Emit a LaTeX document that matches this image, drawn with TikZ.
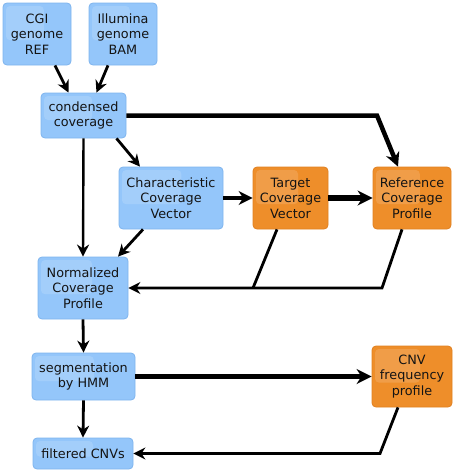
\documentclass[tikz,border=0pt]{standalone}
\usepackage{fontspec}
\setmainfont{DejaVu Sans}
\usetikzlibrary{arrows.meta,calc}
\definecolor{boxblue}{HTML}{94C6FA}
\definecolor{lineblue}{HTML}{7EB4EE}
\definecolor{boxorange}{HTML}{EE8E2A}
\definecolor{lineorange}{HTML}{E08020}
\definecolor{txt}{HTML}{141414}
\begin{document}
\begin{tikzpicture}[x=1pt,y=-1pt,
  box/.style={rounded corners=4pt, align=center, inner sep=0pt, text=txt,
    font=\fontsize{12.8}{15.5}\selectfont, line width=0.8pt,
    path picture={\fill[white,opacity=0.14,rounded corners=4pt]
      ($(path picture bounding box.north west)+(3,3)$) rectangle
      ($(path picture bounding box.north west)!0.6!(path picture bounding box.south east)$);}},
  bluebox/.style={box, fill=boxblue, draw=lineblue},
  orangebox/.style={box, fill=boxorange, draw=lineorange},
  thin/.style={line width=2.8pt, -{Stealth[length=12pt,width=12pt]}},
  plain/.style={line width=2.8pt},
  thick/.style={line width=4.5pt, -{Stealth[length=14pt,width=14pt]}},
  thicker/.style={line width=5.5pt, -{Stealth[length=15pt,width=15pt]}}
]
\useasboundingbox (0,0) rectangle (454,471);
\node[bluebox, minimum width=68, minimum height=62] (cgi) at (37,34) {CGI\\genome\\REF};
\node[bluebox, minimum width=68, minimum height=62] (ill) at (123,34) {Illumina\\genome\\BAM};
\node[bluebox, minimum width=85, minimum height=45] (cond) at (83.5,115.5) {condensed\\coverage};
\node[bluebox, minimum width=104, minimum height=62] (char) at (171,198) {Characteristic\\Coverage\\Vector};
\node[orangebox, minimum width=75, minimum height=62] (targ) at (290.5,198) {Target\\Coverage\\Vector};
\node[orangebox, minimum width=78, minimum height=62] (ref) at (412,198) {Reference\\Coverage\\Profile};
\node[bluebox, minimum width=90, minimum height=62] (norm) at (83,288) {Normalized\\Coverage\\Profile};
\node[bluebox, minimum width=103, minimum height=47] (seg) at (83.5,376.5) {segmentation\\by HMM};
\node[orangebox, minimum width=80, minimum height=61] (cnv) at (412,376.5) {CNV\\frequency\\profile};
\node[bluebox, minimum width=100, minimum height=31] (filt) at (83,453.5) {filtered CNVs};
\coordinate (c1) at (377,115.5);
\coordinate (j1) at (253,288);
\coordinate (j2) at (382,288);
\coordinate (j3) at (380,453.5);
\draw[thin] ([xshift=18]cgi.south) -- ([xshift=-15]cond.north);
\draw[thin] ([xshift=-15]ill.south) -- ([xshift=13]cond.north);
\draw[thick] (cond.east) -- (c1) -- ([xshift=-14]ref.north);
\draw[thin] ([xshift=33]cond.south) -- ([xshift=-31]char.north);
\draw[thin, line width=2.4pt] (cond.south) -- (norm.north);
\draw[thin] ([xshift=-28]char.south) -- ([xshift=35]norm.north);
\draw[thick] (char.east) -- (targ.west);
\draw[thicker] (targ.east) -- (ref.west);
\draw[plain] ([xshift=-13.5]targ.south) -- (j1);
\draw[thin] ([xshift=-10]ref.south) -- (j2) -- (norm.east);
\draw[thin] (norm.south) -- (seg.north);
\draw[thicker] (seg.east) -- (cnv.west);
\draw[thin] (seg.south) -- (filt.north);
\draw[thin] ([xshift=-14]cnv.south) -- (j3) -- (filt.east);
\end{tikzpicture}
\end{document}
